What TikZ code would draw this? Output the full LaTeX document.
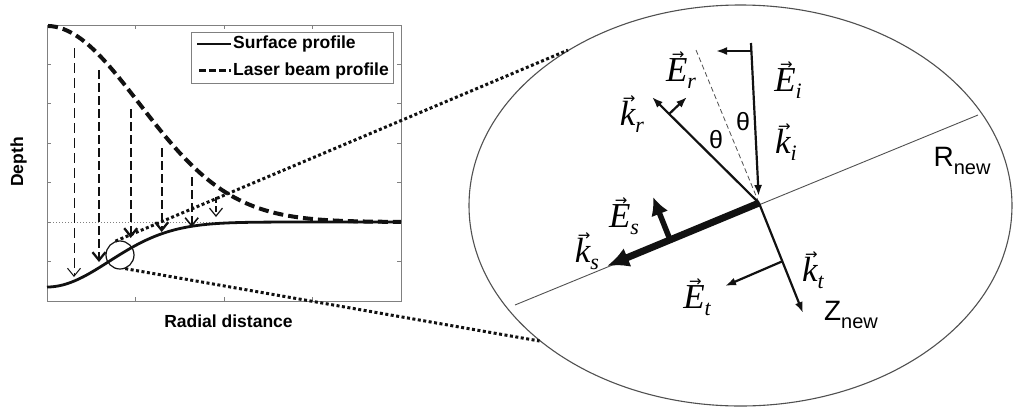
\documentclass[tikz,border=0pt]{standalone}
\usepackage{fontspec}
\setsansfont{Liberation Sans}
\newfontfamily\serifit{Liberation Serif}
\newfontfamily\arrowfont{DejaVu Sans}
\usetikzlibrary{arrows.meta, positioning, shapes.geometric, calc}
\definecolor{AxisGray}{HTML}{808080}
\definecolor{LensGray}{HTML}{505050}
\definecolor{InkBlack}{HTML}{111111}
\newcommand{\fvec}[2]{{\serifit\itshape\setbox0\hbox{#1}\rlap{\hbox to\wd0{\hss\kern3pt\raisebox{0.64em}{\fontsize{15}{15}\selectfont\arrowfont →}\hss}}\box0\raisebox{-0.2em}{\fontsize{22}{22}\selectfont #2}}}
\newcommand{\newax}[1]{#1\raisebox{-0.3em}{\fontsize{20}{20}\selectfont new}}

\begin{document}
\begin{tikzpicture}[x=1pt, y=-1pt, every node/.style={inner sep=0pt},
    plotlab/.style={font=\fontsize{17.5}{17.5}\selectfont\sffamily\bfseries},
    veclab/.style={font=\fontsize{35}{36}\selectfont},
    anglab/.style={font=\fontsize{25}{25}\selectfont\sffamily},
    axlab/.style={font=\fontsize{28}{28}\selectfont\sffamily},
    drop/.style={InkBlack, dash pattern=on 9pt off 4pt, -{Straight Barb[length=8pt,width=13pt]}},
    ray/.style={InkBlack, line width=2.2pt, -{Latex[length=11pt,width=8pt]}}]
    \useasboundingbox (0,0) rectangle (1013,413);

    % axes
    \draw[AxisGray, line width=1pt] (47,25) rectangle (401,301);
    \draw[AxisGray, line width=1pt] (47,64.4) -- +(4,0) (47,103.8) -- +(4,0) (47,143.2) -- +(4,0)
        (47,182.6) -- +(4,0) (47,222) -- +(4,0) (47,261.4) -- +(4,0)
        (401,64.4) -- +(-4,0) (401,103.8) -- +(-4,0) (401,143.2) -- +(-4,0)
        (401,182.6) -- +(-4,0) (401,222) -- +(-4,0) (401,261.4) -- +(-4,0)
        (135.5,25) -- +(0,4) (224,25) -- +(0,4) (312.5,25) -- +(0,4)
        (135.5,301) -- +(0,-4) (224,301) -- +(0,-4) (312.5,301) -- +(0,-4);
    \node[plotlab, rotate=90] (depth) at (18.5,162) {Depth};
    \node[plotlab] (radial) at (228.5,321) {Radial distance};
    \draw[gray, line width=1pt, dash pattern=on 1pt off 2pt] (47,222) -- (401,222);

    % profiles
    \draw[InkBlack, line width=2.8pt] plot[domain=47:401, samples=90, smooth] (\x, {222+65*exp(-(((\x-47)/87.7)^2))});
    \draw[InkBlack, line width=4pt, dash pattern=on 10pt off 5pt] plot[domain=48:401, samples=90, smooth] (\x, {222-196*exp(-(((\x-47)/130)^2))});

    % legend
    \node[draw=AxisGray, line width=1pt, minimum width=202pt, minimum height=51pt] (legend) at (292,57.5) {};
    \node[plotlab, anchor=west] (surflab) at (233,44) {Surface profile};
    \node[plotlab, anchor=west] (beamlab) at (233,70.5) {Laser beam profile};
    \draw[InkBlack, line width=2.5pt] ([xshift=-36pt]surflab.west) -- ([xshift=-2pt]surflab.west);
    \draw[InkBlack, line width=3.5pt, dash pattern=on 7pt off 3pt] ([xshift=-34pt]beamlab.west) -- ([xshift=-2pt]beamlab.west);

    % beam to surface
    \draw[drop, line width=1pt, dash pattern=on 10pt off 5pt] (74,48) -- (74,277);
    \draw[drop, line width=2.3pt] (99,70) -- (99,262);
    \draw[drop, line width=2.3pt] (130.7,109) -- (130.7,238);
    \draw[drop, line width=2.3pt] (161.7,148) -- (161.7,232);
    \draw[drop, line width=1.6pt] (191.7,177) -- (191.7,227);
    \draw[drop, line width=1.2pt, dash pattern=on 6pt off 3pt] (216,197) -- (216,217);

    % magnified spot
    \node[circle, draw=InkBlack, line width=1.2pt, minimum size=28pt] (lens) at (120,255) {};
    \node[ellipse, draw=LensGray, line width=1.1pt, minimum width=543pt, minimum height=401pt] (mag) at (740.5,205.5) {};
    \draw[InkBlack, line width=3pt, dash pattern=on 3pt off 2.5pt] (lens.108) -- (mag.138.5);
    \draw[InkBlack, line width=3pt, dash pattern=on 3pt off 2.5pt] (lens.-69) -- (mag.214.2);

    % rays
    \coordinate (O) at (759,203);
    \coordinate (rl) at (515,305);
    \coordinate (rr) at (978,115);
    \coordinate (nt) at (696,50);
    \coordinate (ki) at (751,43);
    \coordinate (kr) at (652,97);
    \coordinate (ks) at (607,266);
    \coordinate (kt) at (803,313);
    \draw[LensGray, line width=0.9pt] (rl) -- (rr);
    \draw[LensGray, line width=0.8pt, dash pattern=on 5pt off 3pt] (nt) -- (O);
    \draw[ray, shorten >=7pt] (ki) -- (O);
    \draw[ray] (751,51) -- (716,51);
    \draw[ray] (O) -- (kr);
    \draw[ray] ($(O)!0.84!(kr)$) -- (687,97);
    \draw[InkBlack, line width=7pt, -{Latex[length=22pt,width=20pt]}] (O) -- (ks);
    \draw[InkBlack, line width=5.5pt, -{Latex[length=18pt,width=18pt]}] ($(O)!0.585!(ks)$) -- (653,197);
    \draw[ray] (O) -- (kt);
    \draw[ray] ($(O)!0.53!(kt)$) -- (725,286);

    % labels
    \node[veclab] (Er) at (681,70) {\fvec{E}{r}};
    \node[veclab] (krlab) at (632,114) {\fvec{k}{r}};
    \node[veclab] (Ei) at (788,80) {\fvec{E}{i}};
    \node[veclab] (kilab) at (786,142) {\fvec{k}{i}};
    \node[veclab] (Es) at (624,216) {\fvec{E}{s}};
    \node[veclab] (kslab) at (587,251) {\fvec{k}{s}};
    \node[veclab] (Et) at (697,297) {\fvec{E}{t}};
    \node[veclab] (ktlab) at (813,270) {\fvec{k}{t}};
    \node[anglab] (thr) at (716,140) {θ};
    \node[anglab] (thi) at (743,122) {θ};
    \node[axlab] (Rnew) at (962,161) {\newax{R}};
    \node[axlab] (Znew) at (851,315) {\newax{Z}};
\end{tikzpicture}
\end{document}
